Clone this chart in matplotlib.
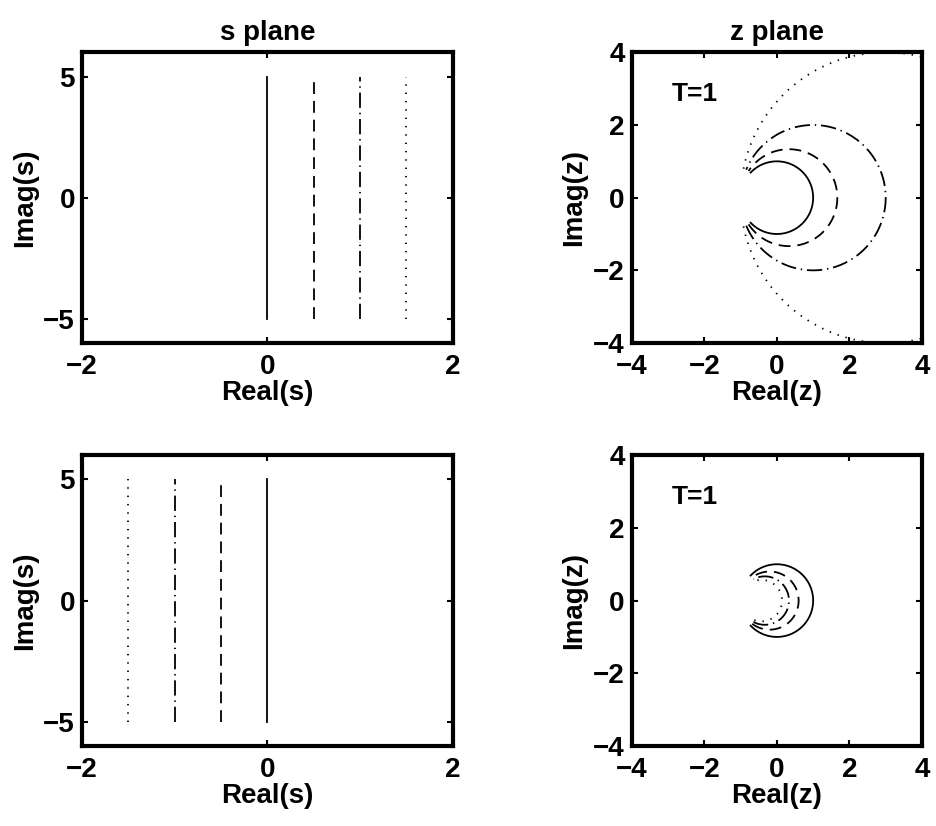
import numpy as np
import matplotlib
matplotlib.use("Agg")
import matplotlib.pyplot as plt

# s-plane vertical lines: real parts, imaginary range
SIGMA_TOP = [0.0, 0.5, 1.0, 1.5]
SIGMA_BOTTOM = [0.0, -0.5, -1.0, -1.5]
OMEGA = np.linspace(-5, 5, 401)
T = 1
# solid, dashed, dash-dot, dotted (MATLAB-like patterns, in points)
DASHES = [None, (8.5, 5), (11, 3.5, 1, 3.5), (1, 5)]

plt.rcParams["font.family"] = ["Liberation Sans", "DejaVu Sans"]
plt.rcParams["font.weight"] = "bold"
plt.rcParams["font.size"] = 20
plt.rcParams["axes.titleweight"] = "bold"
plt.rcParams["axes.labelweight"] = "bold"
plt.rcParams["lines.scale_dashes"] = False


def draw_line(ax, x, y, dash):
    line, = ax.plot(x, y, color="black", lw=1.3)
    if dash is not None:
        line.set_dashes(dash)


def style_axes(ax):
    for sp in ax.spines.values():
        sp.set_linewidth(3)
    ax.tick_params(direction="in", length=4, width=1.5, top=True, right=True,
                   labelsize=20)
    ax.tick_params(axis="x", pad=8)
    ax.tick_params(axis="y", pad=5)


def s_plane(ax, sigmas, title=None):
    for sig, dash in zip(sigmas, DASHES):
        draw_line(ax, np.full_like(OMEGA, sig), OMEGA, dash)
    ax.set_xlim(-2, 2)
    ax.set_ylim(-6, 6)
    ax.set_xticks([-2, 0, 2])
    ax.set_yticks([-5, 0, 5])
    ax.set_xlabel("Real(s)", labelpad=0)
    ax.set_ylabel("Imag(s)", labelpad=4)
    if title:
        ax.set_title(title, fontsize=20, pad=9)
    style_axes(ax)


def z_plane(ax, sigmas, title=None):
    for sig, dash in zip(sigmas, DASHES):
        s = sig + 1j * OMEGA
        z = (1 + s * T / 2) / (1 - s * T / 2)
        draw_line(ax, z.real, z.imag, dash)
    ax.set_xlim(-4, 4)
    ax.set_ylim(-4, 4)
    ax.set_xticks([-4, -2, 0, 2, 4])
    ax.set_yticks([-4, -2, 0, 2, 4])
    ax.set_xlabel("Real(z)", labelpad=0)
    ax.set_ylabel("Imag(z)", labelpad=4)
    ax.text(-2.9, 2.85, "T=%d" % T, fontsize=19, fontweight="bold",
            ha="left", va="center")
    if title:
        ax.set_title(title, fontsize=20, pad=9)
    style_axes(ax)


fig = plt.figure(figsize=(9.36, 8.26), dpi=100)
ax1 = fig.add_axes([0.0876, 0.5847, 0.396, 0.352])
ax2 = fig.add_axes([0.675, 0.5847, 0.310, 0.352])
ax3 = fig.add_axes([0.0876, 0.0969, 0.396, 0.352])
ax4 = fig.add_axes([0.675, 0.0969, 0.310, 0.352])

s_plane(ax1, SIGMA_TOP, "s plane")
z_plane(ax2, SIGMA_TOP, "z plane")
s_plane(ax3, SIGMA_BOTTOM)
z_plane(ax4, SIGMA_BOTTOM)

fig.savefig("out.png", dpi=100)
